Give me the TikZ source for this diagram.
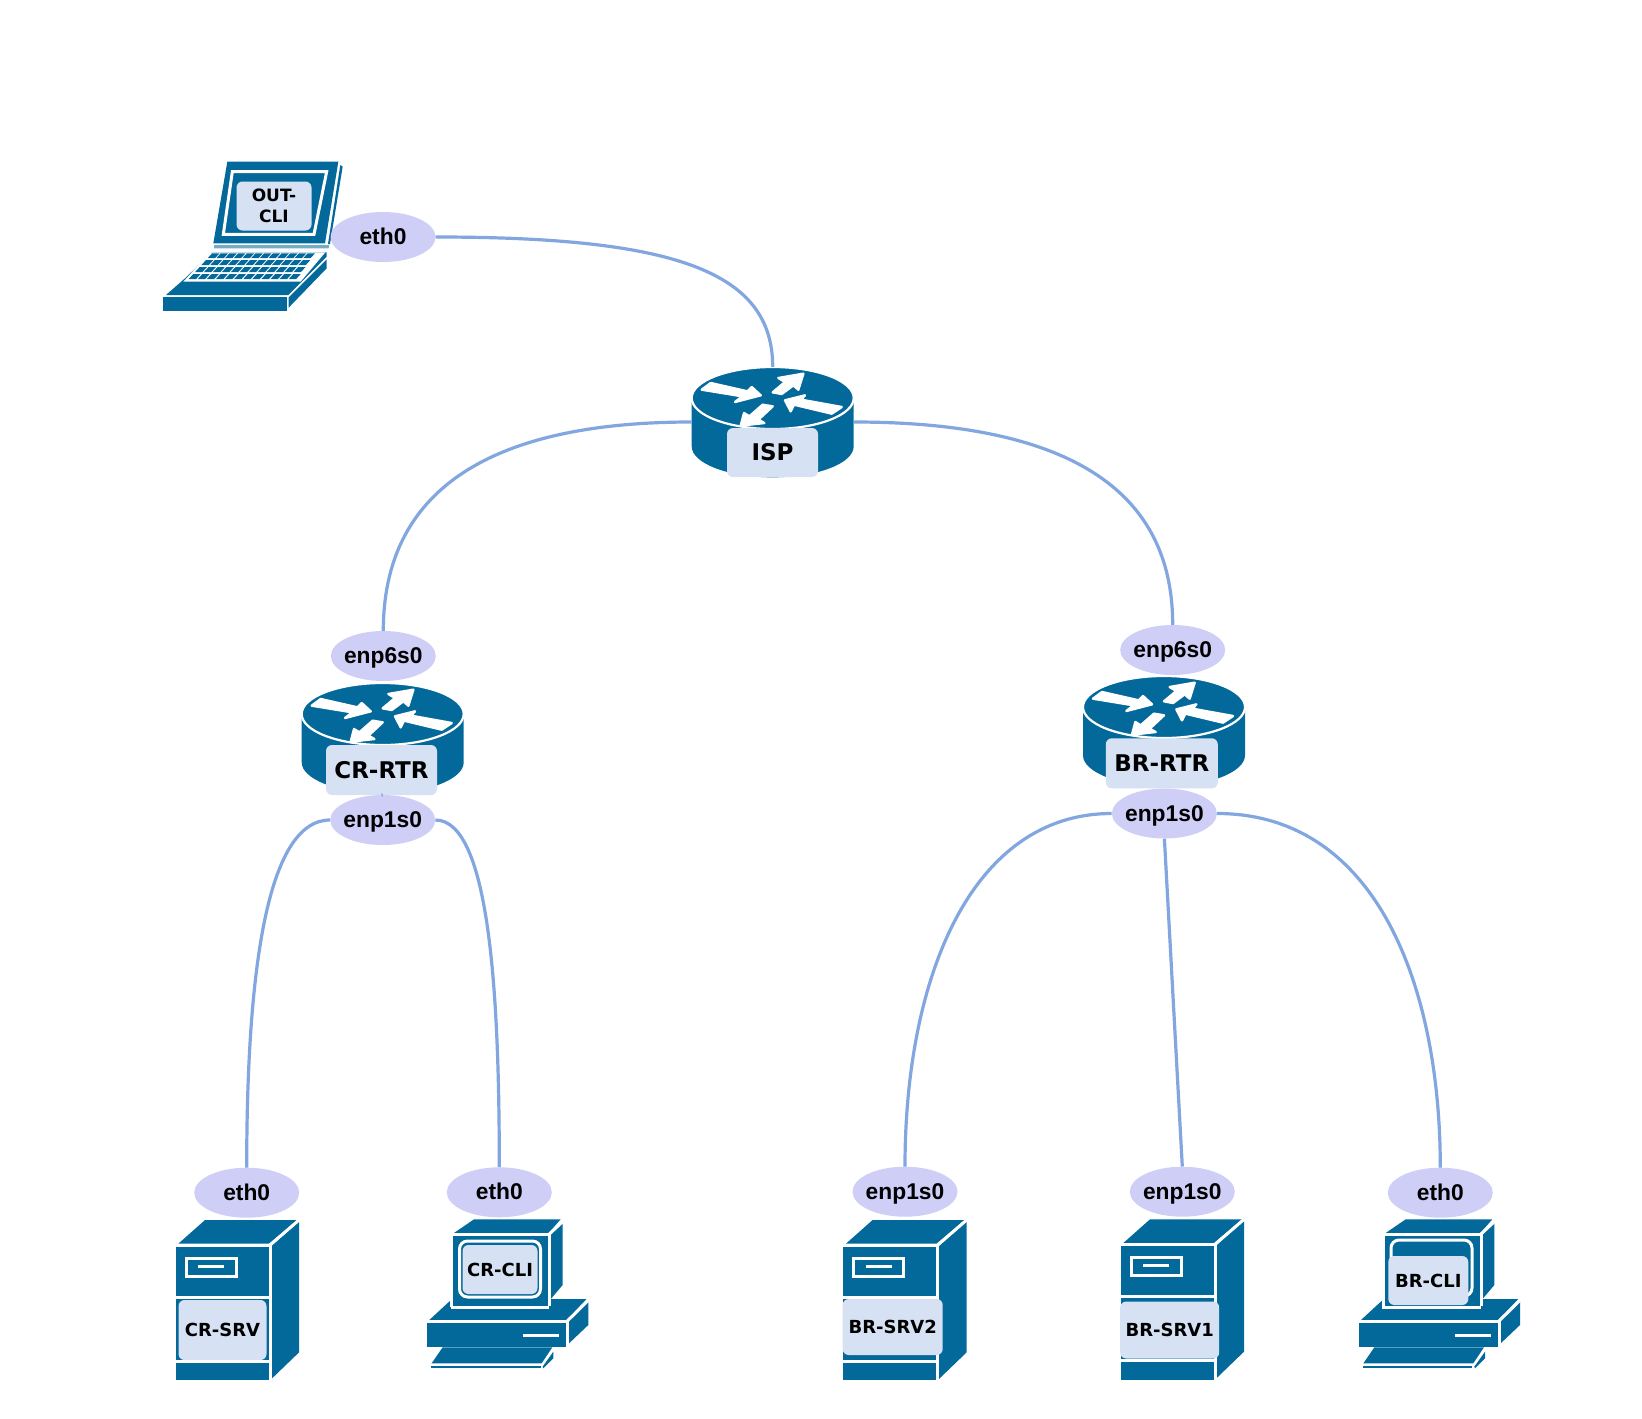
\documentclass[tikz,border=0pt]{standalone}
\usepackage{fontspec}
\setmainfont{Liberation Sans}
\newfontfamily\devfont{DejaVu Sans}
\usetikzlibrary{shapes.geometric}
\definecolor{devblue}{HTML}{03699A}
\definecolor{lblfill}{HTML}{D6E2F3}
\definecolor{ifacefill}{HTML}{CECEF6}
\definecolor{linkblue}{HTML}{82A6DF}
\newcommand{\iftxt}[1]{\makebox[0pt]{\smash{\raisebox{-7.5pt}{#1}}}}
\tikzset{
  iface/.style={ellipse,fill=ifacefill,minimum width=105pt,minimum height=50pt,inner sep=0pt,
    font=\fontsize{22.8}{26}\selectfont\bfseries,text=black},
  devlabel/.style={fill=lblfill,rounded corners=6pt,inner sep=0pt,align=center,
    font=\devfont\bfseries\fontsize{18}{22}\selectfont,text=black},
  bigfont/.style={font=\devfont\bfseries\fontsize{23}{26}\selectfont},
  routerbox/.style={minimum width=162pt,minimum height=110pt,inner sep=0pt},
  link/.style={draw=linkblue,line width=3.2pt},
  whiteline/.style={draw=white,line width=3pt},
  arrowshape/.style={fill=white,draw=white,line width=2.4pt,line join=round},
}
% all device geometry is given in units of 1/3 px
\newcommand{\drawRouter}[3]{%
  \node[routerbox] (#1) at (#2,#3+24) {};
  \begin{scope}[shift={(#2,#3)},scale=1/3]
    \fill[devblue] (-243,0) -- (-243,145) .. controls (-243,196) and (-134,238) .. (0,238)
       .. controls (134,238) and (243,196) .. (243,145) -- (243,0) -- cycle;
    \path[fill=devblue,draw=white,line width=2.2pt] (-243,0) .. controls (-243,-51) and (-134,-93) .. (0,-93)
       .. controls (134,-93) and (243,-51) .. (243,0)
       .. controls (243,51) and (134,93) .. (0,93)
       .. controls (-134,93) and (-243,51) .. (-243,0) -- cycle;
    \path[arrowshape] (-213,-25) -- (-186,-45) -- (-76,-20) -- (-63,-33) -- (-36,-8) -- (-113,12) -- (-91,-5) -- cycle;
    \path[arrowshape] (0,-17) -- (37,-48) -- (17,-60) -- (92,-73) -- (77,-25) -- (62,-38) -- (27,-12) -- cycle;
    \path[arrowshape] (37,7) -- (97,-8) -- (85,5) -- (207,27) -- (177,47) -- (64,20) -- (54,40) -- cycle;
    \path[arrowshape] (-96,83) -- (-86,45) -- (-70,55) -- (-30,20) -- (0,25) -- (-43,65) -- (-25,75) -- cycle;
  \end{scope}}
\newcommand{\drawServer}[2]{%
  \begin{scope}[shift={(#1,#2)},scale=1/3]
    \path[fill=devblue] (8,-4) -- (88,-75) -- (364,-75) -- (280,-4) -- cycle;
    \path[fill=devblue] (286,4) -- (370,-70) -- (370,322) -- (286,403) -- cycle;
    \path[fill=devblue] (0,4) rectangle (280,406);
    \draw[whiteline] (-2,0) -- (283,0) -- (283,408);
    \draw[whiteline] (283,0) -- (370,-75);
    \draw[whiteline] (0,158) -- (280,158);
    \draw[whiteline] (0,349) -- (280,349);
    \draw[whiteline] (31,40) rectangle (181,93);
    \draw[whiteline] (68,65) -- (145,65);
  \end{scope}}
\newcommand{\drawPC}[2]{%
  \begin{scope}[shift={(#1,#2)},scale=1/3]
    \path[fill=devblue] (-72,255) -- (-5,193) -- (400,192) -- (340,255) -- cycle;
    \path[fill=devblue] (2,-6) -- (62,-47) -- (322,-47) -- (286,-6) -- cycle;
    \path[fill=devblue] (290,2) -- (328,-36) -- (328,150) -- (290,195) -- cycle;
    \path[fill=devblue] (-6,2) -- (286,2) -- (286,212) -- (-6,212) -- cycle;
    \draw[whiteline] (0,-3) -- (288,-3) -- (288,214);
    \draw[whiteline] (288,-3) -- (328,-40);
    \draw[whiteline] (-8,216) -- (288,216);
    \draw[whiteline] (-6,0) -- (-6,216);
    \path[fill=devblue] (-78,262) rectangle (338,335);
    \path[fill=devblue] (345,260) -- (405,200) -- (405,270) -- (345,327) -- cycle;
    \draw[whiteline] (-78,258) -- (342,258) -- (342,335);
    \draw[whiteline] (342,258) -- (405,196);
    \draw[whiteline] (210,300) -- (318,300);
    \path[fill=devblue] (-65,385) -- (-32,337) -- (297,337) -- (265,385) -- cycle;
    \path[fill=devblue] (-67,393) -- (262,393) -- (262,400) -- (-67,400) -- cycle;
    \path[fill=devblue] (268,395) -- (300,350) -- (300,370) -- (270,400) -- cycle;
  \end{scope}}
\begin{document}
\begin{tikzpicture}[x=1pt,y=-1pt]
\useasboundingbox (0,0) rectangle (1642,1419);
\fill[white] (0,0) rectangle (1642,1419);
% laptop
\begin{scope}[shift={(140,140)},scale=1/3]
  \path[fill=devblue] (262,65) -- (595,65) -- (555,310) -- (220,310) -- cycle;
  \path[fill=devblue] (601,75) -- (608,80) -- (570,312) -- (564,312) -- cycle;
  \draw[whiteline] (277,95) -- (560,95) -- (522,283) -- (250,283) -- cycle;
  \fill[devblue!55!white] (222,315) -- (568,315) -- (566,325) -- (222,325) -- cycle;
  \path[fill=devblue] (215,337) -- (560,337) -- (560,350) -- (445,465) -- (78,465) -- (135,415) -- cycle;
  \path[fill=white] (210,337) -- (556,337) -- (482,425) -- (130,425) -- cycle;
  \foreach \ry/\rh in {340/14,360/15,381/15,402/15}{
    \foreach \k in {0,...,11}{
      \pgfmathsetmacro{\xl}{218-(\ry-337)*0.91+\k*(26+(\ry-337)*0.02)+1}
      \pgfmathsetmacro{\xr}{\xl+22}
      \pgfmathsetmacro{\yb}{\ry+\rh}
      \pgfmathsetmacro{\xlb}{\xl-\rh*0.91}
      \pgfmathsetmacro{\xrb}{\xr-\rh*0.91}
      \fill[devblue] (\xl,\ry) -- (\xr,\ry) -- (\xrb,\yb) -- (\xlb,\yb) -- cycle;
    }}
  \path[fill=devblue] (68,472) rectangle (440,512);
  \path[fill=devblue] (446,472) -- (560,358) -- (560,385) -- (446,503) -- cycle;
\end{scope}
\node[devlabel,minimum width=75pt,minimum height=49pt,font=\devfont\bfseries\fontsize{17}{21.5}\selectfont] (outcli) at (274,206) {OUT-\\CLI};
% routers
\drawRouter{isp}{772.7}{398}
\drawRouter{crrtr}{382.7}{714}
\drawRouter{brrtr}{1164}{707}
\node[devlabel,bigfont,minimum width=91pt,minimum height=49pt] (isplbl) at (772.5,452.5) {ISP};
\node[devlabel,bigfont,minimum width=111pt,minimum height=50pt] (crrtrlbl) at (381.5,770) {CR-RTR};
\node[devlabel,bigfont,minimum width=112pt,minimum height=50pt] (brrtrlbl) at (1161.8,763.3) {BR-RTR};
% servers
\drawServer{175.7}{1245}
\drawServer{843.3}{1245}
\drawServer{1120.7}{1244.3}
\node[devlabel,minimum width=88pt,minimum height=60pt] (crsrv) at (222.5,1330) {CR-SRV};
\node[devlabel,minimum width=100pt,minimum height=56pt] (brsrv2) at (892.7,1327) {BR-SRV2};
\node[devlabel,minimum width=99pt,minimum height=57pt] (brsrv1) at (1169.7,1330) {BR-SRV1};
% PCs
\drawPC{453.3}{1235}
\drawPC{1385}{1235}
\draw[whiteline,rounded corners=8pt] (459.5,1241) rectangle (540.5,1297);
\draw[whiteline,rounded corners=8pt] (1391,1240) rectangle (1472,1296);
\node[devlabel,minimum width=75pt,minimum height=49pt] (crcli) at (500,1269.5) {CR-CLI};
\node[devlabel,minimum width=80pt,minimum height=49pt] (brcli) at (1428.3,1280.5) {BR-CLI};
% interface ellipses
\node[iface] (ifout) at (383,237) {\iftxt{eth0}};
\node[iface] (ifcr6) at (383.3,656) {\iftxt{enp6s0}};
\node[iface] (ifcr1) at (382.7,820) {\iftxt{enp1s0}};
\node[iface] (ifbr6) at (1172.7,650) {\iftxt{enp6s0}};
\node[iface] (ifbr1) at (1164.4,813.5) {\iftxt{enp1s0}};
\node[iface] (ifcrsrv) at (246.7,1192.7) {\iftxt{eth0}};
\node[iface] (ifcrcli) at (499.3,1192.3) {\iftxt{eth0}};
\node[iface] (ifbrsrv2) at (905,1191.7) {\iftxt{enp1s0}};
\node[iface] (ifbrsrv1) at (1182.3,1191.7) {\iftxt{enp1s0}};
\node[iface] (ifbrcli) at (1440.3,1192.7) {\iftxt{eth0}};
% links
\draw[link] (ifout.east) .. controls +(240,0) and +(0,-95) .. (isp.north);
\draw[link] (isp.west) .. controls +(-243,0) and +(0,-110) .. (ifcr6.north);
\draw[link] (isp.east) .. controls +(250,0) and +(0,-110) .. (ifbr6.north);
\draw[link] (crrtrlbl.south) -- (ifcr1.north);
\draw[link] (ifcr1.west) .. controls +(-65,0) and +(0,-187) .. (ifcrsrv.north);
\draw[link] (ifcr1.east) .. controls +(55,0) and +(0,-167) .. (ifcrcli.north);
\draw[link] (ifbr1.west) .. controls +(-140,0) and +(0,-190) .. (ifbrsrv2.north);
\draw[link] (ifbr1.south) -- (ifbrsrv1.north);
\draw[link] (ifbr1.east) .. controls +(160,0) and +(0,-180) .. (ifbrcli.north);
\end{tikzpicture}
\end{document}
